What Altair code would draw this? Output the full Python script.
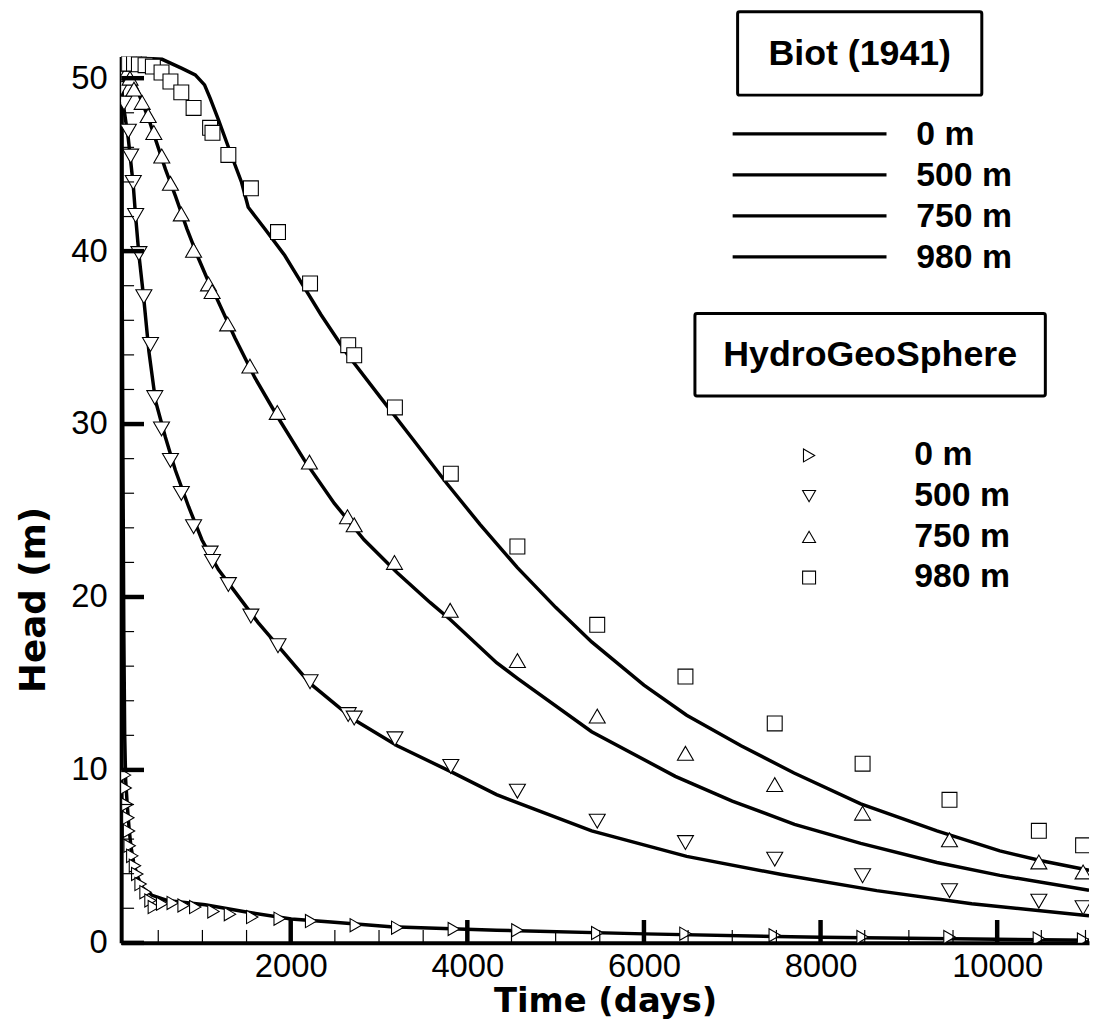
import altair as alt
import pandas as pd

# ---------------- data ----------------
# Biot (1941) analytical curves: time (days), head (m)
biot_0_t = [85, 90, 100, 110, 120, 131, 150, 170, 190, 220, 260, 320, 431, 600, 1031, 1481, 2006, 2456, 3131, 4331, 6007, 8000, 11040]
biot_0_h = [51.1, 40, 28, 18, 12, 9.4, 7.9, 6.6, 5.6, 4.7, 3.9, 3.2, 2.75, 2.45, 2.2, 1.8, 1.38, 1.2, 0.93, 0.73, 0.52, 0.32, 0.15]

biot_500_t = [85, 112, 161, 188, 217, 244, 281, 337, 394, 469, 581, 694, 844, 994, 1181, 1406, 1631, 1856, 2219, 2719, 3206, 3813, 4331, 5408, 6484, 7559, 8635, 9712, 11040]
biot_500_h = [49.3, 48.2, 46.5, 45.2, 43.8, 42.0, 39.8, 37.2, 34.2, 31.34, 29.24, 27.33, 25.22, 23.31, 21.58, 20.05, 18.52, 17.18, 15.0, 12.9, 11.4, 9.9, 8.57, 6.47, 5.0, 3.95, 3.02, 2.26, 1.57]

biot_750_t = [85, 130, 188, 262, 394, 469, 581, 694, 825, 956, 1069, 1144, 1369, 1594, 1856, 2156, 2494, 2831, 3206, 3581, 3806, 4331, 4567, 5408, 6355, 7000, 7705, 8455, 9318, 10030, 11040]
biot_750_h = [51.1, 50.7, 50.09, 49.33, 47.61, 46.46, 44.74, 43.2, 41.29, 39.57, 38.23, 37.47, 34.98, 32.68, 30.38, 27.9, 25.41, 23.31, 21.4, 19.67, 18.7, 16.2, 15.3, 12.21, 9.63, 8.2, 6.85, 5.75, 4.65, 3.9, 3.04]

biot_980_t = [85, 318, 544, 768, 919, 1024, 1087, 1181, 1331, 1444, 1519, 1706, 1931, 2044, 2343, 2643, 3018, 3394, 3768, 4143, 4567, 5000, 5408, 6000, 6484, 7100, 7700, 8455, 9318, 10030, 10500, 11040]
biot_980_h = [51.15, 51.15, 51.09, 50.57, 50.19, 49.61, 48.85, 47.61, 45.5, 43.97, 42.54, 41.29, 39.76, 38.81, 36.32, 34.02, 31.53, 29.05, 26.56, 24.2, 21.7, 19.4, 17.4, 14.9, 13.16, 11.4, 9.82, 8.04, 6.47, 5.32, 4.75, 4.2]

# HydroGeoSphere simulated heads
hgs_0_t = [35, 45, 55, 124, 131, 150, 161, 169, 176, 206, 236, 262, 300, 356, 412, 450, 544, 664, 787, 919, 1125, 1312, 1564, 1875, 2231, 2737, 3206, 3847, 4567, 5471, 6470, 7481, 8476, 9460, 10472, 10973]
hgs_0_h = [50.6, 49.6, 48.7, 9.7, 8.96, 8.0, 7.23, 6.47, 5.61, 5.03, 4.46, 3.98, 3.4, 2.93, 2.45, 2.07, 2.26, 2.31, 2.16, 2.07, 1.82, 1.66, 1.49, 1.40, 1.26, 1.02, 0.88, 0.80, 0.73, 0.57, 0.53, 0.44, 0.34, 0.34, 0.25, 0.19]

hgs_500_t = [45, 60, 75, 112, 161, 188, 217, 244, 281, 337, 412, 461, 537, 638, 761, 900, 1087, 1114, 1294, 1549, 1856, 2219, 2651, 2719, 3180, 3813, 4567, 5471, 6470, 7481, 8476, 9460, 10472, 10973]
hgs_500_h = [50.4, 49.9, 49.4, 48.56, 46.94, 45.5, 43.97, 42.06, 39.86, 37.37, 34.6, 31.53, 29.72, 27.9, 25.99, 24.07, 22.54, 22.06, 20.72, 18.9, 17.18, 15.1, 13.2, 13.0, 11.8, 10.2, 8.77, 7.04, 5.80, 4.84, 3.88, 3.02, 2.41, 2.03]

hgs_750_t = [100, 140, 180, 225, 318, 386, 450, 540, 638, 761, 900, 1069, 1110, 1286, 1538, 1848, 2212, 2643, 2719, 3175, 3806, 4567, 5471, 6470, 7481, 8476, 9460, 10472, 10973]
hgs_750_h = [50.6, 50.3, 50.0, 49.37, 48.6, 47.84, 46.86, 45.5, 43.92, 42.15, 40.05, 38.1, 37.66, 35.79, 33.35, 30.67, 27.8, 24.64, 24.17, 22.0, 19.23, 16.32, 13.11, 10.96, 9.15, 7.5, 5.96, 4.68, 4.1]

hgs_980_t = [56, 112, 169, 225, 281, 356, 439, 537, 638, 761, 900, 1087, 1114, 1294, 1549, 1856, 2219, 2651, 2719, 3180, 3813, 4567, 5471, 6470, 7481, 8476, 9460, 10472, 10973]
hgs_980_h = [50.85, 50.85, 50.85, 50.85, 50.8, 50.75, 50.67, 50.33, 49.81, 49.18, 48.28, 47.13, 46.84, 45.56, 43.63, 41.10, 38.13, 34.56, 33.98, 30.96, 27.13, 22.92, 18.39, 15.40, 12.69, 10.36, 8.27, 6.48, 5.64]

depth_labels = ["0 m", "500 m", "750 m", "980 m"]
hgs_shapes = ["triangle-right", "triangle-down", "triangle-up", "square"]

x_major = [2000, 4000, 6000, 8000, 10000]
x_minor = [v for v in range(500, 11001, 500) if v % 2000 != 0]
y_major = [0, 10, 20, 30, 40, 50]
y_minor = [v for v in range(2, 51, 2) if v % 10 != 0]

# ---------------- layout ----------------
W, H = 975, 893
XDOM = [80, 11040]
YDOM = [0, 51.26]
FONT = "Liberation Sans"
TITLE_FONT = "DejaVu Sans"

xs = alt.Scale(domain=XDOM, nice=False, zero=False)
ys = alt.Scale(domain=YDOM, nice=False, zero=False)

x_axis = alt.Axis(values=x_major, format="d", title="Time (days)", grid=False, ticks=False,
                  domain=True, domainColor="black", domainWidth=4, labelFontSize=33, labelFont=FONT,
                  labelColor="black", labelPadding=8, titleFont=TITLE_FONT, titleFontSize=34,
                  titleFontWeight="bold", titleColor="black", titleY=69, titleBaseline="alphabetic",
                  labelFlush=False)
y_axis = alt.Axis(values=y_major, title="Head (m)", grid=False, ticks=False,
                  domain=True, domainColor="black", domainWidth=4, labelFontSize=33, labelFont=FONT,
                  labelColor="black", labelPadding=14, titleFont=TITLE_FONT, titleFontSize=36,
                  titleFontWeight="bold", titleColor="black", titleX=-77, titleY=547,
                  titleBaseline="alphabetic", titleAngle=270, labelFlush=False)


def X(field):
    return alt.X(field, scale=xs, axis=x_axis)


def Y(field):
    return alt.Y(field, scale=ys, axis=y_axis)


def series_df(ts, hs, label):
    return pd.DataFrame({"t": ts, "h": hs, "depth": label})


biot = pd.concat([
    series_df(biot_0_t, biot_0_h, "0 m"),
    series_df(biot_500_t, biot_500_h, "500 m"),
    series_df(biot_750_t, biot_750_h, "750 m"),
    series_df(biot_980_t, biot_980_h, "980 m"),
])

lines = alt.Chart(biot).mark_line(color="black", strokeWidth=3.5, clip=True).encode(
    x=X("t:Q"), y=Y("h:Q"), detail="depth:N",
)

hgs_sets = [(hgs_0_t, hgs_0_h, 175), (hgs_500_t, hgs_500_h, 260),
            (hgs_750_t, hgs_750_h, 260), (hgs_980_t, hgs_980_h, 225)]
point_layers = []
for (ts, hs, sz), shp, lab in zip(hgs_sets, hgs_shapes, depth_labels):
    point_layers.append(
        alt.Chart(series_df(ts, hs, lab)).mark_point(
            shape=shp, filled=True, fill="white", stroke="black",
            strokeWidth=1.1, size=sz, opacity=1, clip=True).encode(x=X("t:Q"), y=Y("h:Q"))
    )

# inward ticks
xt_major = alt.Chart(pd.DataFrame({"t": x_major})).mark_rule(color="black", strokeWidth=4.5).encode(
    x=X("t:Q"), y=alt.value(H), y2=alt.value(H - 23))
xt_minor = alt.Chart(pd.DataFrame({"t": x_minor})).mark_rule(color="black", strokeWidth=1.2).encode(
    x=X("t:Q"), y=alt.value(H), y2=alt.value(H - 13))
yt_major = alt.Chart(pd.DataFrame({"h": y_major})).mark_rule(color="black", strokeWidth=4.5).encode(
    y=Y("h:Q"), x=alt.value(0), x2=alt.value(23))
yt_minor = alt.Chart(pd.DataFrame({"h": y_minor})).mark_rule(color="black", strokeWidth=1.2).encode(
    y=Y("h:Q"), x=alt.value(0), x2=alt.value(13))

# ---------------- legends (pixel layout relative to plot area) ----------------
anchor = pd.DataFrame({"k": [0]})
legend_layers = []


def box(x0, x1, y0, y1, title, ty):
    legend_layers.append(alt.Chart(anchor).mark_rect(
        fillOpacity=0, stroke="black", strokeWidth=3, cornerRadius=2).encode(
        x=alt.value(x0), x2=alt.value(x1), y=alt.value(y0), y2=alt.value(y1)))
    legend_layers.append(alt.Chart(anchor).mark_text(
        text=title, font=FONT, fontSize=36, fontWeight="bold", color="black",
        align="center", baseline="alphabetic").encode(
        x=alt.value((x0 + x1) / 2), y=alt.value(ty)))


def label(x, y, txt):
    legend_layers.append(alt.Chart(anchor).mark_text(
        text=txt, font=FONT, fontSize=34, fontWeight="bold", color="black",
        align="left", baseline="alphabetic").encode(x=alt.value(x), y=alt.value(y)))


ROW_B = 41.3
ROW_H = 41.0
box(621, 867, -45, 39, "Biot (1941)", 9)
for i, lab in enumerate(depth_labels):
    ly = 78 + i * ROW_B
    legend_layers.append(alt.Chart(anchor).mark_rule(color="black", strokeWidth=3.4).encode(
        x=alt.value(616), x2=alt.value(771), y=alt.value(ly)))
    label(801, 89 + i * ROW_B, lab)

box(578, 931, 259, 342, "HydroGeoSphere", 312)
for i, (lab, shp) in enumerate(zip(depth_labels, hgs_shapes)):
    legend_layers.append(alt.Chart(anchor).mark_point(
        shape=shp, filled=True, fill="white", stroke="black", strokeWidth=1.1,
        size=170, opacity=1).encode(x=alt.value(693), y=alt.value(402 + i * ROW_H)))
    label(799, 412 + i * ROW_H, lab)

chart = alt.layer(
    lines, *point_layers, xt_major, xt_minor, yt_major, yt_minor, *legend_layers,
).properties(
    width=W, height=H,
    autosize=alt.AutoSizeParams(type="none"),
    padding={"left": 114, "top": 45, "right": 2, "bottom": 80},
    background="white",
).configure_view(stroke=None)

chart.save("out.html", embed_options={"renderer": "svg", "actions": False})
